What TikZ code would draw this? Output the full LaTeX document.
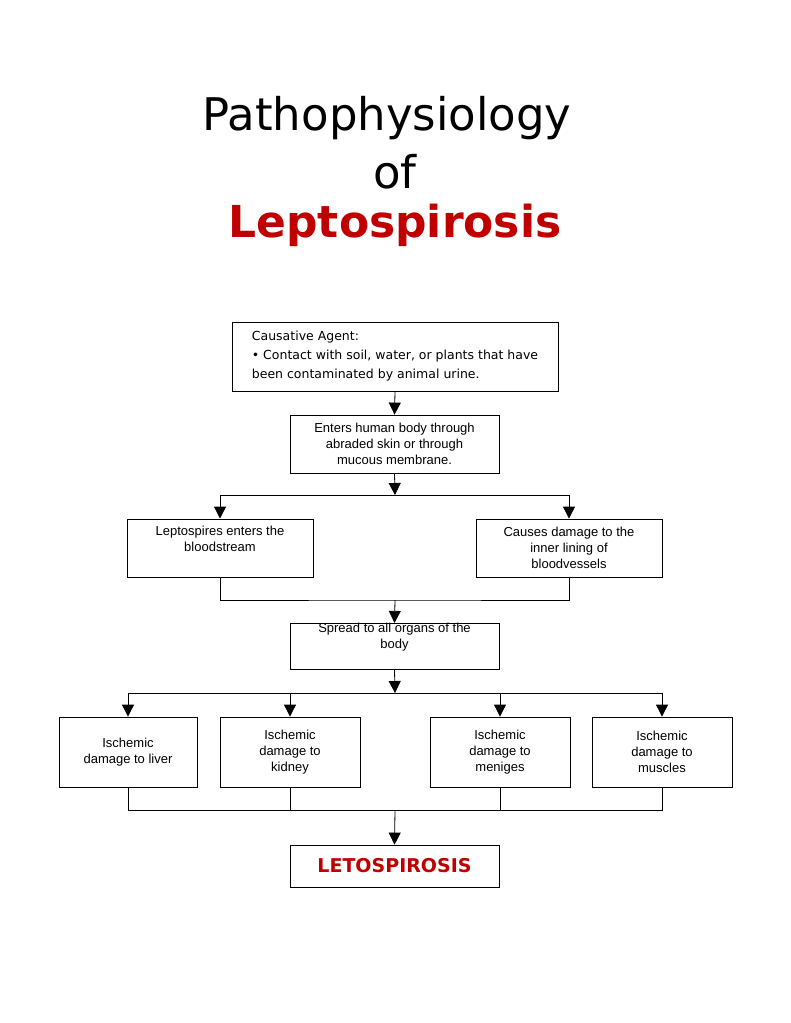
\documentclass[tikz,border=0pt]{standalone}
\usepackage{fontspec}
\setmainfont{Liberation Sans}
\newfontfamily\dejavu{DejaVu Sans}
\usetikzlibrary{arrows.meta}
\definecolor{lred}{RGB}{192,0,0}
\begin{document}
\begin{tikzpicture}[x=1pt,y=-1pt,
 bx/.style={draw,line width=0.8pt,inner sep=0pt,align=center,font=\fontsize{13}{16}\selectfont},
 ar/.style={-{Triangle[width=12pt,length=12pt]},line width=0.8pt},
 ln/.style={line width=0.8pt}]
\useasboundingbox (0,0) rectangle (791,1023);
\node[font=\dejavu\fontsize{45}{56}\selectfont,align=center] (t1) at (387,118) {Pathophysiology};
\node[font=\dejavu\fontsize{45}{56}\selectfont] (t2) at (395,172) {of};
\node[font=\dejavu\bfseries\fontsize{44}{56}\selectfont,text=lred] (t3) at (395,225) {Leptospirosis};
\node[bx,minimum width=326,minimum height=69,align=left,font=\dejavu\fontsize{12.5}{19}\selectfont] (b1) at (395,356.5) {Causative Agent:\\ \textbullet\ Contact with soil, water, or plants that have\\been contaminated by animal urine.};
\node[bx,minimum width=209,minimum height=58] (b2) at (394.5,444) {Enters human body through\\abraded skin or through\\mucous membrane.};
\node[bx,minimum width=186,minimum height=58] (b3) at (220,548) {Leptospires enters the\\bloodstream\\[3pt]};
\node[bx,minimum width=186,minimum height=58] (b4) at (569,548) {Causes damage to the\\inner lining of\\bloodvessels};
\node[bx,minimum width=209,minimum height=45] (b5) at (394.5,646.5) {Spread to all organs of the\\body\\[5pt]};
\node[bx,minimum width=138,minimum height=70] (c1) at (128,752) {Ischemic\\damage to liver};
\node[bx,minimum width=140,minimum height=70] (c2) at (290,752) {Ischemic\\damage to\\kidney};
\node[bx,minimum width=140,minimum height=70] (c3) at (500,752) {Ischemic\\damage to\\meniges};
\node[bx,minimum width=140,minimum height=70] (c4) at (662,752) {Ischemic\\damage to\\muscles};
\node[bx,minimum width=209,minimum height=42,font=\dejavu\bfseries\fontsize{19}{22}\selectfont,text=lred] (b6) at (394.5,866) {LETOSPIROSIS};
\coordinate (j1) at (395,495);
\coordinate (j2) at (395,600);
\coordinate (j3) at (395,693);
\coordinate (j4) at (395,810);
\draw[ar] (b1.south) -- (b2.north);
\draw[ar] (b2.south) -- (j1);
\draw[ar] (j1) -| (b3.north);
\draw[ar] (j1) -| (b4.north);
\draw[ln] (b3.south) |- (j2) -| (b4.south);
\draw[ar] (j2) -- (b5.north);
\draw[ar] (b5.south) -- (j3);
\draw[ar] (j3) -| (c1.north);
\draw[ar] (j3) -| (c2.north);
\draw[ar] (j3) -| (c3.north);
\draw[ar] (j3) -| (c4.north);
\draw[ln] (c1.south) |- (j4) -| (c4.south);
\draw[ln] (c2.south) -- (c2.south|-j4);
\draw[ln] (c3.south) -- (c3.south|-j4);
\draw[ar] (j4) -- (b6.north);
\end{tikzpicture}
\end{document}
